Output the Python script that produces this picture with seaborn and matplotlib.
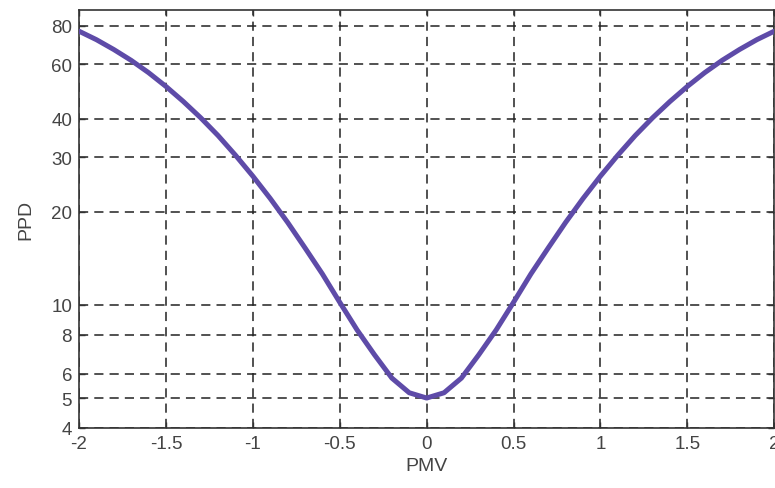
import matplotlib
matplotlib.use("Agg")
import matplotlib.pyplot as plt
import seaborn as sns
import pandas as pd
from matplotlib.ticker import FixedLocator, NullLocator, FixedFormatter

pmv = [-2.0, -1.9, -1.8, -1.7, -1.6, -1.5, -1.4, -1.3, -1.2, -1.1, -1.0,
       -0.9, -0.8, -0.7, -0.6, -0.5, -0.4, -0.3, -0.2, -0.1, 0.0,
       0.1, 0.2, 0.3, 0.4, 0.5, 0.6, 0.7, 0.8, 0.9, 1.0,
       1.1, 1.2, 1.3, 1.4, 1.5, 1.6, 1.7, 1.8, 1.9, 2.0]
ppd = [76.8, 72.1, 67.0, 61.8, 56.4, 50.9, 45.5, 40.3, 35.3, 30.5, 26.1,
       22.1, 18.5, 15.3, 12.6, 10.2, 8.3, 6.9, 5.8, 5.2, 5.0,
       5.2, 5.8, 6.9, 8.3, 10.2, 12.6, 15.3, 18.5, 22.1, 26.1,
       30.5, 35.3, 40.3, 45.5, 50.9, 56.4, 61.8, 67.0, 72.1, 76.8]
x_ticks = [-2, -1.5, -1, -0.5, 0, 0.5, 1, 1.5, 2]
x_labels = ["-2", "-1.5", "-1", "-0.5", "0", "0.5", "1", "1.5", "2"]
y_ticks = [4, 5, 6, 8, 10, 20, 30, 40, 60, 80]
y_labels = ["4", "5", "6", "8", "10", "20", "30", "40", "60", "80"]

df = pd.DataFrame({"PMV": pmv, "PPD": ppd})

sns.set_style("ticks")
plt.rcParams["font.family"] = ["Liberation Sans", "DejaVu Sans"]

fig = plt.figure(figsize=(7.75, 4.89), dpi=100)
ax = fig.add_axes([0.102, 0.1227, 0.897, 0.855])

sns.lineplot(data=df, x="PMV", y="PPD", ax=ax, color="#5E4BA8", linewidth=3.6,
             zorder=3)
ax.set_yscale("log")
ax.set_xlim(-2, 2)
ax.set_ylim(4, 90)

ax.xaxis.set_major_locator(FixedLocator(x_ticks))
ax.xaxis.set_major_formatter(FixedFormatter(x_labels))
ax.yaxis.set_major_locator(FixedLocator(y_ticks))
ax.yaxis.set_major_formatter(FixedFormatter(y_labels))
ax.yaxis.set_minor_locator(NullLocator())
ax.xaxis.set_minor_locator(NullLocator())

ax.grid(True, which="major", color="#222222", linestyle=(0, (6, 4)), linewidth=1.1)
ax.tick_params(direction="in", length=4, width=1, top=True, right=True,
               labelsize=13.5, labelcolor="#444444", colors="#333333")
ax.tick_params(axis="x", pad=5)
ax.tick_params(axis="y", pad=5)
for sp in ax.spines.values():
    sp.set_color("#333333")
    sp.set_linewidth(1.2)

ax.set_xlabel("PMV", fontsize=14, color="#444444", labelpad=4)
ax.set_ylabel("PPD", fontsize=14, color="#444444", labelpad=12)

fig.savefig("out.png", dpi=100)
